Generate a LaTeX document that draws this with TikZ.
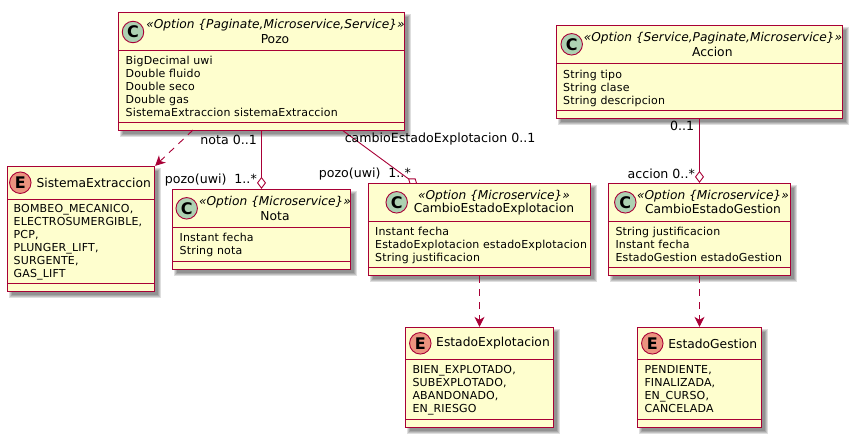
\documentclass[tikz,border=0pt]{standalone}
\usepackage{fontspec}
\setmainfont{DejaVu Sans}
\newfontfamily\memberfont[LetterSpace=1.5]{DejaVu Sans}
\usetikzlibrary{arrows.meta,calc}
\definecolor{umlborder}{HTML}{A80036}
\definecolor{umlfill}{HTML}{FEFECE}
\definecolor{iconc}{HTML}{ADD1B2}
\definecolor{icone}{HTML}{EB937F}
\pgfdeclarelayer{background}
\pgfsetlayers{background,main}
\tikzset{
  x=1pt,y=-1pt,
  umlbox/.style={draw=umlborder,fill=umlfill,line width=1.3pt,inner sep=0pt,rectangle},
  umlsep/.style={draw=umlborder,line width=1.3pt},
  umlicon/.style={circle,draw=umlborder,line width=.9pt,minimum size=21.5pt,inner sep=0pt,font=\fontsize{16}{16}\selectfont\bfseries},
  iconC/.style={umlicon,fill=iconc},
  iconE/.style={umlicon,fill=icone},
  stereo/.style={inner sep=0pt,font=\fontsize{12.2}{13}\selectfont\itshape},
  cname/.style={inner sep=0pt,font=\fontsize{12.3}{13}\selectfont},
  members/.style={inner sep=0pt,anchor=north west,align=left,font=\fontsize{11}{13}\selectfont\memberfont},
  endlabel/.style={inner sep=0pt,anchor=east,font=\fontsize{12.6}{13}\selectfont},
  assoc/.style={draw=umlborder,line width=.9pt},
  aggr/.style={assoc,-{Diamond[open,length=12pt,width=9pt,line width=.9pt]}},
  dep/.style={assoc,dash pattern=on 7pt off 6pt,-{Stealth[inset=3pt,length=10pt,width=10pt]}},
}
\newcommand{\umlclass}[7]{%
  \pgfmathsetmacro\bw{#4-#2}\pgfmathsetmacro\bh{#5-#3}%
  \begin{pgfonlayer}{background}
    \foreach \d in {0,1,2,3}{
      \fill[black,opacity=.13] (#2+1.5+\d,#3+1.5+\d) rectangle (#4+6.5-\d,#5+6.5-\d);
    }
  \end{pgfonlayer}
  \node[umlbox,minimum width=\bw pt,minimum height=\bh pt] (#1) at ({(#2+#4)/2},{(#3+#5)/2}) {};
  \draw[umlsep] (#2,#6) -- (#4,#6);
  \draw[umlsep] (#2,#7) -- (#4,#7);
}
\begin{document}
\begin{tikzpicture}
\useasboundingbox (0,0) rectangle (855,440);
% boxes
\umlclass{pozo}{118.5}{12.5}{404.5}{130.5}{50.5}{122.5}
\umlclass{sist}{7.5}{166.5}{154.5}{291.5}{199.5}{283.5}
\umlclass{nota}{172.5}{189.5}{350.5}{269.5}{227.5}{261.5}
\umlclass{cee}{368.5}{183.5}{590.5}{275.5}{221.5}{267.5}
\umlclass{ceg}{608.5}{183.5}{790.5}{275.5}{221.5}{267.5}
\umlclass{accion}{556.5}{25.5}{842.5}{118.5}{63.5}{110.5}
\umlclass{ee}{405.5}{327.5}{553.5}{427.5}{359.5}{419.5}
\umlclass{eg}{637.5}{327.5}{761.5}{427.5}{359.5}{419.5}
% headers
\node[iconC] (pozoI) at (133,32) {C};
\node[stereo] (pozoS) at (275.5,24.7) {«Option \{Paginate,Microservice,Service\}»};
\node[cname] (pozoN) at (275,38.7) {Pozo};
\node[members] (pozoM) at (125.5,56) {BigDecimal uwi\\Double fluido\\Double seco\\Double gas\\SistemaExtraccion sistemaExtraccion};
\node[iconE] (sistI) at (20.3,182.7) {E};
\node[cname] (sistN) at (93.7,182.5) {SistemaExtraccion};
\node[members] (sistM) at (13.5,204) {BOMBEO\_MECANICO,\\ELECTROSUMERGIBLE,\\PCP,\\PLUNGER\_LIFT,\\SURGENTE,\\GAS\_LIFT};
\node[iconC] (notaI) at (186.7,208.3) {C};
\node[stereo] (notaS) at (275,201.7) {«Option \{Microservice\}»};
\node[cname] (notaN) at (275,215.7) {Nota};
\node[members] (notaM) at (179.5,233) {Instant fecha\\String nota};
\node[iconC] (ceeI) at (396.7,202.3) {C};
\node[stereo] (ceeS) at (494,195.7) {«Option \{Microservice\}»};
\node[cname] (ceeN) at (494,209.3) {CambioEstadoExplotacion};
\node[members] (ceeM) at (375,227) {Instant fecha\\EstadoExplotacion estadoExplotacion\\String justificacion};
\node[iconC] (cegI) at (625.3,202.3) {C};
\node[stereo] (cegS) at (713,195.7) {«Option \{Microservice\}»};
\node[cname] (cegN) at (713,209.3) {CambioEstadoGestion};
\node[members] (cegM) at (615.3,227) {String justificacion\\Instant fecha\\EstadoGestion estadoGestion};
\node[iconC] (accionI) at (571.7,44.3) {C};
\node[stereo] (accionS) at (713,37.7) {«Option \{Service,Paginate,Microservice\}»};
\node[cname] (accionN) at (712.3,51.7) {Accion};
\node[members] (accionM) at (563,69.5) {String tipo\\String clase\\String descripcion};
\node[iconE] (eeI) at (420.3,343.3) {E};
\node[cname] (eeN) at (493,343.5) {EstadoExplotacion};
\node[members] (eeM) at (412.3,365) {BIEN\_EXPLOTADO,\\SUBEXPLOTADO,\\ABANDONADO,\\EN\_RIESGO};
\node[iconE] (egI) at (652.3,343.3) {E};
\node[cname] (egN) at (712.8,343.5) {EstadoGestion};
\node[members] (egM) at (644.3,365) {PENDIENTE,\\FINALIZADA,\\EN\_CURSO,\\CANCELADA};
% connectors
\coordinate (pozoDep) at (193,130);
\coordinate (pozoCee) at (342,130);
\coordinate (ceeTip) at (417.7,185.6);
\begin{pgfonlayer}{background}
  \draw[aggr] (pozoCee) -- (ceeTip);
\end{pgfonlayer}
\draw[dep] (pozoDep) -- (sist.north east);
\draw[aggr] (nota.north |- pozo.south) -- (nota.north);
\draw[aggr] (ceg.north |- accion.south) -- (ceg.north);
\draw[dep] (cee.south -| ee.north) -- (ee.north);
\draw[dep] (ceg.south -| eg.north) -- (eg.north);
% end labels
\node[endlabel] (l1) at (257,140) {nota 0..1};
\node[endlabel] (l2) at (257,180) {pozo(uwi)\ \ 1..*};
\node[endlabel] (l3) at (535.5,139.5) {cambioEstadoExplotacion 0..1};
\node[endlabel] (l4) at (411,174) {pozo(uwi)\ \ 1..*};
\node[endlabel] (l5) at (694.3,126) {0..1};
\node[endlabel] (l6) at (695,174) {accion 0..*};
\end{tikzpicture}
\end{document}
